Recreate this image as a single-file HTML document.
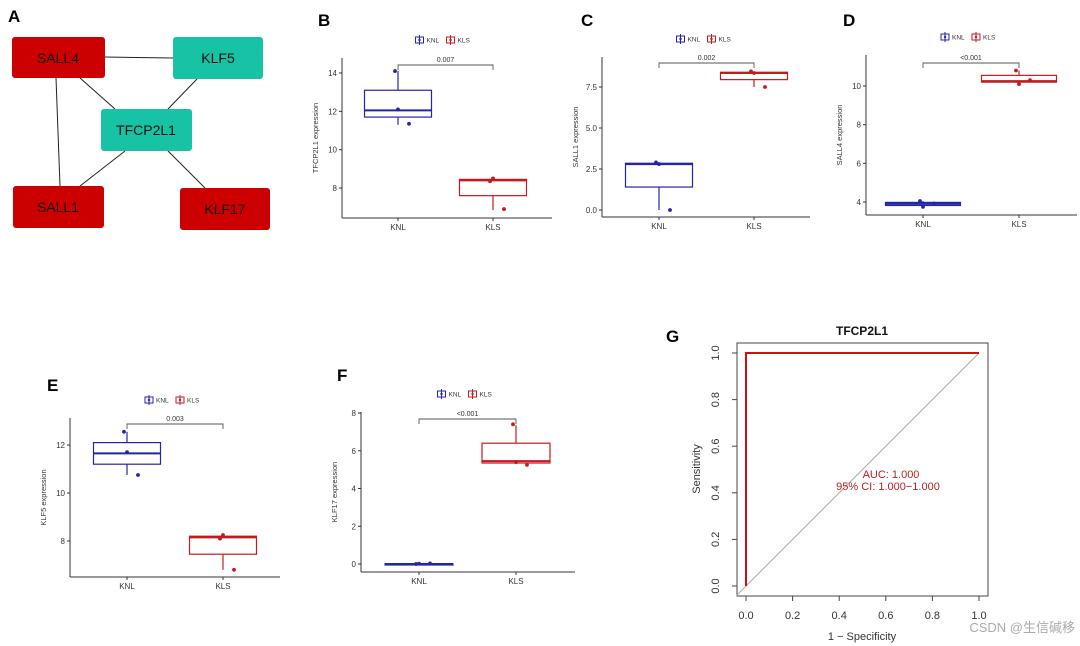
<!DOCTYPE html>
<html><head><meta charset="utf-8"><style>
body{margin:0;background:#fff;font-family:"Liberation Sans","Noto Sans CJK SC",sans-serif}
svg{display:block}
</style></head><body>
<svg id="fig" width="1080" height="646" viewBox="0 0 1080 646" xmlns="http://www.w3.org/2000/svg" font-family="Liberation Sans, Noto Sans CJK SC, sans-serif">
<g>
<text x="8" y="22" font-size="17" font-weight="bold">A</text>
<g stroke="#222" stroke-width="1">
<line x1="105" y1="57" x2="173" y2="58"/>
<line x1="80" y1="78" x2="115" y2="109"/>
<line x1="56" y1="78" x2="60" y2="186"/>
<line x1="197" y1="79" x2="168" y2="109"/>
<line x1="125" y1="151" x2="80" y2="186"/>
<line x1="168" y1="151" x2="205" y2="188"/>
</g>
<rect x="12" y="37" width="93" height="41" rx="3" fill="#cc0000"/>
<text x="58" y="63" font-size="14" text-anchor="middle" fill="#111">SALL4</text>
<rect x="173" y="37" width="90" height="42" rx="3" fill="#17c2a5"/>
<text x="218" y="63" font-size="14" text-anchor="middle" fill="#111">KLF5</text>
<rect x="101" y="109" width="91" height="42" rx="3" fill="#17c2a5"/>
<text x="146" y="135" font-size="14" text-anchor="middle" fill="#111">TFCP2L1</text>
<rect x="13" y="186" width="91" height="42" rx="3" fill="#cc0000"/>
<text x="58" y="212" font-size="14" text-anchor="middle" fill="#111">SALL1</text>
<rect x="180" y="188" width="90" height="42" rx="3" fill="#cc0000"/>
<text x="225" y="214" font-size="14" text-anchor="middle" fill="#111">KLF17</text>
</g>
<text x="318" y="26" font-size="17" font-weight="bold">B</text>
<text x="581" y="26" font-size="17" font-weight="bold">C</text>
<text x="843" y="26" font-size="17" font-weight="bold">D</text>
<text x="47" y="391" font-size="17" font-weight="bold">E</text>
<text x="337" y="381" font-size="17" font-weight="bold">F</text>
<text x="666" y="342" font-size="17" font-weight="bold">G</text>
<text x="1075" y="632" font-size="13" text-anchor="end" fill="#aaa">CSDN @生信碱移</text>
</svg>
<script>
// Box-plot data: [min, q1, median, q3, max]
const groups = ["KNL","KLS"];
const bKNL=[11.3,11.7,12.05,13.1,14.1], bKLS=[6.85,7.6,8.4,8.45,8.5];
const bKNLpts=[14.1,12.1,11.35], bKLSpts=[8.35,8.5,6.9];
const bTicks=[8,10,12,14];
const cKNL=[0,1.4,2.8,2.85,2.85], cKLS=[7.5,7.95,8.35,8.4,8.4];
const cKNLpts=[2.9,2.8,0.0], cKLSpts=[8.45,8.35,7.5];
const cTicks=[0,2.5,5,7.5];
const dKNL=[3.75,3.82,3.9,3.98,4.05], dKLS=[10.1,10.2,10.25,10.55,10.8];
const dKNLpts=[4.05,3.75,3.92], dKLSpts=[10.8,10.1,10.3];
const dTicks=[4,6,8,10];
const eKNL=[10.75,11.2,11.65,12.1,12.55], eKLS=[6.8,7.45,8.15,8.2,8.2];
const eKNLpts=[12.55,11.7,10.75], eKLSpts=[8.1,8.25,6.8];
const eTicks=[8,10,12];
const fKNL=[0,0,0,0,0], fKLS=[5.3,5.35,5.45,6.4,7.35];
const fKNLpts=[0.0,0.02,0.03], fKLSpts=[7.4,5.4,5.25];
const fTicks=[0,2,4,6,8];
const pvals=["0.007","0.002","<0.001","0.003","<0.001"];
// ROC data
const rocFPR=[0,0,1], rocTPR=[0,1,1];
const rocTicks=[0,0.2,0.4,0.6,0.8,1.0];

const NS="http://www.w3.org/2000/svg", svg=document.getElementById('fig');
function el(t,a,p){const e=document.createElementNS(NS,t);for(const k in a)e.setAttribute(k,a[k]);(p||svg).appendChild(e);return e;}
const BLUE="#2424a8", RED="#c41a1f";

const panels=[
 {name:"b",title:"TFCP2L1 expression",knl:bKNL,kls:bKLS,kp:bKNLpts,lp:bKLSpts,ticks:bTicks,p:pvals[0],ax:342,top:58,bot:218,right:552,x1:398,x2:493,v0:8,y0:188,v1:14,y1:73,bw:67,br:65,leg:40,fmt:0},
 {name:"c",title:"SALL1 expression",knl:cKNL,kls:cKLS,kp:cKNLpts,lp:cKLSpts,ticks:cTicks,p:pvals[1],ax:602,top:57,bot:217,right:810,x1:659,x2:754,v0:0,y0:210,v1:7.5,y1:87,bw:67,br:63,leg:39,fmt:1},
 {name:"d",title:"SALL4 expression",knl:dKNL,kls:dKLS,kp:dKNLpts,lp:dKLSpts,ticks:dTicks,p:pvals[2],ax:866,top:55,bot:215,right:1077,x1:923,x2:1019,v0:4,y0:202,v1:10,y1:86,bw:75,br:63,leg:37,fmt:0},
 {name:"e",title:"KLF5 expression",knl:eKNL,kls:eKLS,kp:eKNLpts,lp:eKLSpts,ticks:eTicks,p:pvals[3],ax:70,top:418,bot:577,right:280,x1:127,x2:223,v0:8,y0:541,v1:12,y1:445,bw:67,br:424,leg:400,fmt:0},
 {name:"f",title:"KLF17 expression",knl:fKNL,kls:fKLS,kp:fKNLpts,lp:fKLSpts,ticks:fTicks,p:pvals[4],ax:361,top:412,bot:572,right:575,x1:419,x2:516,v0:0,y0:564,v1:8,y1:413,bw:68,br:419,leg:394,fmt:0}
];
const jit=[-3,0,11];
panels.forEach(P=>{
 const g=el('g',{});
 
 
 const y=v=>P.y0+(v-P.v0)*(P.y1-P.y0)/(P.v1-P.v0);
 el('line',{x1:P.ax,y1:P.top,x2:P.ax,y2:P.bot,stroke:'#333','stroke-width':1},g);
 el('line',{x1:P.ax,y1:P.bot,x2:P.right,y2:P.bot,stroke:'#333','stroke-width':1},g);
 P.ticks.forEach(t=>{
  const yy=y(t);
  el('line',{x1:P.ax-3,y1:yy,x2:P.ax,y2:yy,stroke:'#333'},g);
  const tx=el('text',{x:P.ax-5,y:yy+3,'font-size':8,'text-anchor':'end',fill:'#333'},g);
  tx.textContent=P.fmt?t.toFixed(1):t;
  
  
 });
 [[P.x1,'KNL'],[P.x2,'KLS']].forEach(([x,l])=>{
  el('line',{x1:x,y1:P.bot,x2:x,y2:P.bot+3,stroke:'#333'},g);
  const tx=el('text',{x:x,y:P.bot+12,'font-size':8,'text-anchor':'middle',fill:'#333'},g);
  tx.textContent=l;
  
  
 });
 const yt=el('text',{transform:`translate(${P.ax-24},${(P.top+P.bot)/2}) rotate(-90)`,'font-size':7.5,'text-anchor':'middle',fill:'#333'},g);
 yt.textContent=P.title;
 
 
 [[P.knl,P.kp,P.x1,BLUE,'knl'],[P.kls,P.lp,P.x2,RED,'kls']].forEach(([s,pts,x,c,n])=>{
  const bg=el('g',{},g);
  
  
  el('line',{x1:x,y1:y(s[0]),x2:x,y2:y(s[4]),stroke:c,'stroke-width':1.2},bg);
  const h=Math.max(1,y(s[1])-y(s[3]));
  el('rect',{x:x-P.bw/2,y:y(s[3]),width:P.bw,height:h,fill:'#fff',stroke:c,'stroke-width':1.2},bg);
  el('line',{x1:x-P.bw/2,y1:y(s[2]),x2:x+P.bw/2,y2:y(s[2]),stroke:c,'stroke-width':2},bg);
  pts.forEach((v,i)=>{
   const d=el('circle',{cx:x+jit[i],cy:y(v),r:1.9,fill:c},bg);
   
   
  });
 });
 const bk=el('path',{d:`M${P.x1},${P.br+5}V${P.br}H${P.x2}V${P.br+5}`,fill:'none',stroke:'#555','stroke-width':0.9},g);
 
 
 const pt=el('text',{x:(P.x1+P.x2)/2,y:P.br-3,'font-size':7,'text-anchor':'middle',fill:'#333'},g);
 pt.textContent=P.p;
 
 
 const lx=(P.x1+P.x2)/2-30;
 [[lx,BLUE,'KNL'],[lx+31,RED,'KLS']].forEach(([x,c,l])=>{
  const lg=el('g',{},g);
  
  
  el('rect',{x:x,y:P.leg-3,width:8,height:6,fill:'#fff',stroke:c,'stroke-width':1},lg);
  el('line',{x1:x+4,y1:P.leg-5,x2:x+4,y2:P.leg+5,stroke:c},lg);
  el('circle',{cx:x+4,cy:P.leg,r:1.2,fill:c},lg);
  const t=el('text',{x:x+11,y:P.leg+2.5,'font-size':6.5,fill:'#333'},lg);
  t.textContent=l;
 });
});

// ROC panel G
(function(){
 const L=737,R=988,T=343,B=596;
 const g=el('g',{});
 
 
 const sx=v=>746+v*(979-746), sy=v=>586-v*(586-353);
 el('rect',{x:L,y:T,width:R-L,height:B-T,fill:'none',stroke:'#444','stroke-width':1},g);
 const diag=el('line',{x1:sx(1),y1:sy(1),x2:L,y2:sy(1+(L-sx(0))/(sx(1)-sx(0))*0)+((sx(0)-L)/(sx(1)-sx(0)))*(586-353)+0,stroke:'#aaa','stroke-width':1},g);
 diag.setAttribute('x2',sx(-0.04)); diag.setAttribute('y2',sy(-0.04));
 
 
 rocTicks.forEach(t=>{
  el('line',{x1:sx(t),y1:B,x2:sx(t),y2:B+5,stroke:'#444'},g);
  const a=el('text',{x:sx(t),y:619,'font-size':11,'text-anchor':'middle',fill:'#333'},g);
  a.textContent=t.toFixed(1);
  
  
  el('line',{x1:L-5,y1:sy(t),x2:L,y2:sy(t),stroke:'#444'},g);
  const b=el('text',{transform:`translate(719,${sy(t)}) rotate(-90)`,'font-size':11,'text-anchor':'middle',fill:'#333'},g);
  b.textContent=t.toFixed(1);
  
  
 });
 const line=el('polyline',{points:rocFPR.map((f,i)=>`${sx(f)},${sy(rocTPR[i])}`).join(' '),fill:'none',stroke:'#d01010','stroke-width':2},g);
 
 
 const tt=el('text',{x:862,y:335,'font-size':12,'font-weight':'bold','text-anchor':'middle',fill:'#111'},g);
 tt.textContent='TFCP2L1';
 
 
 const a1=el('text',{x:891,y:478,'font-size':11,'text-anchor':'middle',fill:'#b22222'},g);
 a1.textContent='AUC: 1.000';
 
 
 const a2=el('text',{x:888,y:490,'font-size':11,'text-anchor':'middle',fill:'#b22222'},g);
 a2.textContent='95% CI: 1.000\u22121.000';
 
 
 const xl=el('text',{x:862,y:640,'font-size':11,'text-anchor':'middle',fill:'#333'},g);
 xl.textContent='1 \u2212 Specificity';
 
 
 const yl=el('text',{transform:'translate(700,469) rotate(-90)','font-size':11,'text-anchor':'middle',fill:'#333'},g);
 yl.textContent='Sensitivity';
 
 
})();
</script>
</body></html>
